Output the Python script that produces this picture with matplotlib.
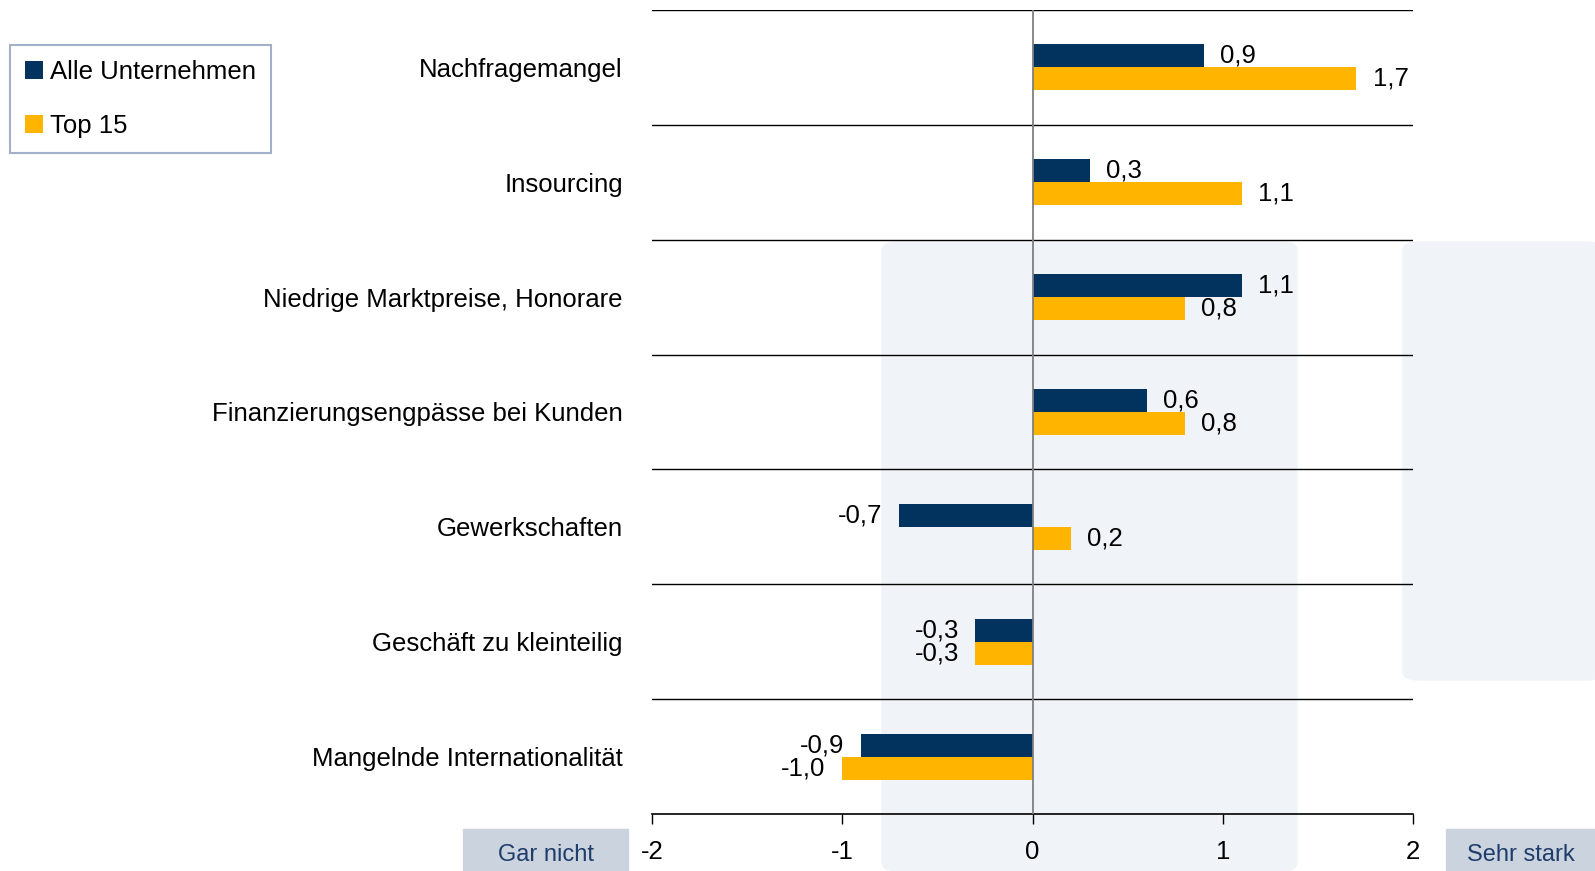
import matplotlib.pyplot as plt
from matplotlib.patches import Rectangle, FancyBboxPatch
import numpy as np

# data
categories = ['Nachfragemangel', 'Insourcing', 'Niedrige Marktpreise, Honorare',
              'Finanzierungsengpässe bei Kunden', 'Gewerkschaften',
              'Geschäft zu kleinteilig', 'Mangelnde Internationalität']
alle = [0.9, 0.3, 1.1, 0.6, -0.7, -0.3, -0.9]
top15 = [1.7, 1.1, 0.8, 0.8, 0.2, -0.3, -1.0]
series_names = ['Alle Unternehmen', 'Top 15']
xticks = [-2, -1, 0, 1, 2]

navy = '#02335f'
gold = '#ffb400'
plt.rcParams['font.family'] = ['Liberation Sans', 'DejaVu Sans']
fs = 18.5

W, H = 1595, 871
fig = plt.figure(figsize=(W / 100, H / 100), dpi=100)

# light background shapes
fig.patches.append(FancyBboxPatch((882 / W, 0), 415 / W, 1 - 242 / H,
                                  boxstyle='round,pad=0,rounding_size=0.01',
                                  transform=fig.transFigure, color='#f0f4f8', zorder=-10))
fig.patches.append(FancyBboxPatch((1403 / W, 1 - 680 / H), 200 / W, 438 / H,
                                  boxstyle='round,pad=0,rounding_size=0.01',
                                  transform=fig.transFigure, color='#f0f4f8', zorder=-10))

ax = fig.add_axes([652 / W, 1 - 814 / H, 761 / W, 804 / H])
ax.patch.set_alpha(0)

y = np.arange(len(categories))
h = 0.2
ax.barh(y - h / 2, alle, height=h, color=navy, label=series_names[0], zorder=3)
ax.barh(y + h / 2, top15, height=h, color=gold, label=series_names[1], zorder=3)

def fmt(v):
    return f'{v:.1f}'.replace('.', ',')

for vals, off in [(alle, -h / 2), (top15, h / 2)]:
    for yi, v in zip(y, vals):
        ax.annotate(fmt(v), (v, yi + off), xytext=(12 if v >= 0 else -12, 0),
                    textcoords='offset points', va='center',
                    ha='left' if v >= 0 else 'right', fontsize=fs, zorder=4)

ax.set_xlim(-2, 2)
ax.set_ylim(len(categories) - 0.5, -0.5)
for k in range(len(categories)):
    ax.axhline(k - 0.5, color='black', lw=1, zorder=2)
ax.axvline(0, color='#7f7f7f', lw=1.3, zorder=4)

for s in ['top', 'right', 'left']:
    ax.spines[s].set_visible(False)
ax.spines['bottom'].set_linewidth(1.2)

ax.set_xticks(xticks)
ax.set_xticklabels([str(t) for t in xticks], fontsize=fs)
ax.tick_params(axis='x', length=7, width=1, pad=12)
ax.set_yticks(y)
ax.set_yticklabels(categories, fontsize=fs)
ax.tick_params(axis='y', length=0, pad=21)

leg = fig.legend(loc='upper left', bbox_to_anchor=(10 / W, 1 - 45 / H), fontsize=fs,
                 frameon=True, fancybox=False, handlelength=0.7, handleheight=0.7,
                 handletextpad=0.25, labelspacing=1.15, borderpad=0.6, borderaxespad=0)
leg.get_frame().set_edgecolor('#8e9bbb')
leg.get_frame().set_linewidth(1.5)

# scale end boxes
box_col = '#cbd3de'
fig.patches.append(Rectangle((463 / W, 0), 165 / W, 42 / H, transform=fig.transFigure,
                             color=box_col, zorder=-5))
fig.patches.append(Rectangle((1446 / W, 0), 150 / W, 42 / H, transform=fig.transFigure,
                             color=box_col, zorder=-5))
fig.text(546 / W, 16 / H, 'Gar nicht', ha='center', va='center', fontsize=17, color='#1f3d6b')
fig.text(1521 / W, 16 / H, 'Sehr stark', ha='center', va='center', fontsize=17, color='#1f3d6b')

fig.savefig('out.png', dpi=100)
